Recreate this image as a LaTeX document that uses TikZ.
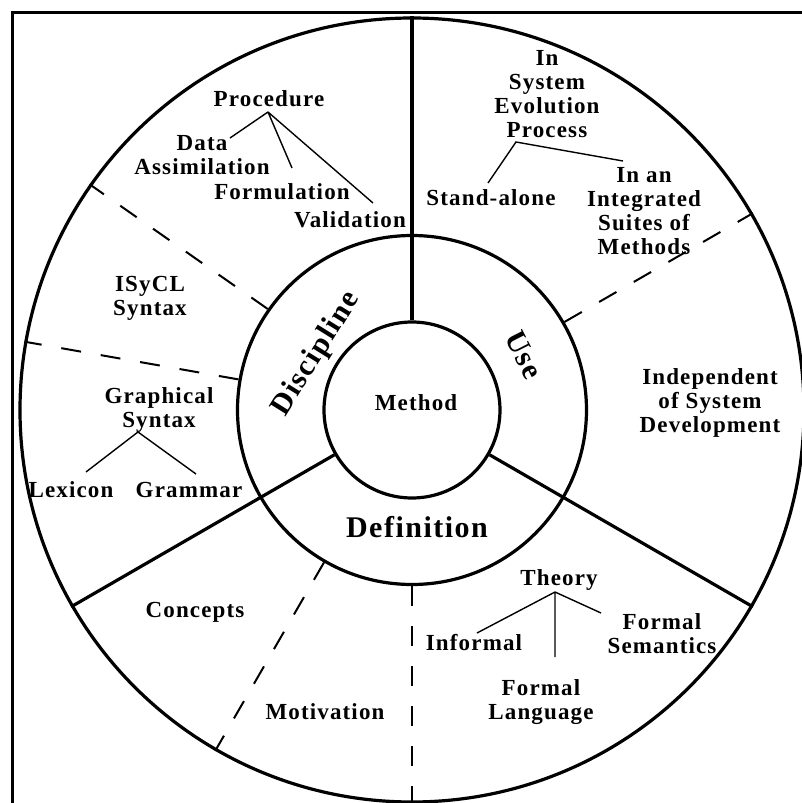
\documentclass[tikz,border=0pt]{standalone}
\usepackage{fontspec}
\setmainfont{Liberation Serif}[LetterSpace=5]
\tikzset{
    ring/.style={circle, draw, line width=1.6pt, inner sep=0pt},
    heavy/.style={line width=1.6pt},
    split/.style={line width=1pt, dash pattern=on 10pt off 10pt},
    twig/.style={line width=0.7pt},
    lbl/.style={font=\fontsize{11.5}{12}\selectfont\bfseries, align=center, inner sep=0pt},
    big/.style={font=\fontsize{15}{16}\selectfont\bfseries, inner sep=0pt},
}

\begin{document}
\begin{tikzpicture}[x=0.5pt, y=0.5pt]
    \useasboundingbox (-412,-393) rectangle (390,410);
    \clip (-412,-393) rectangle (390,410);
    \draw[line width=1.5pt] (-399,-420) -- (-399,397) -- (420,397);

    % rings
    \node[ring, minimum size=392pt] (rim) at (0,0) {};
    \node[ring, minimum size=174.5pt] (band) at (0,0) {};
    \node[ring, minimum size=88pt] (core) at (0,0) {};
    \node[lbl] (method) at (4,7) {Method};

    % sectors
    \draw[heavy] (core.90) -- (rim.90);
    \draw[heavy] (core.210) -- (rim.210);
    \draw[heavy] (core.330) -- (rim.330);
    \draw[split] (band.145) -- (rim.145);
    \draw[split] (band.170) -- (rim.170);
    \draw[split] (band.30) -- (rim.30);
    \draw[split] (band.240) -- (rim.240);
    \draw[split] (band.270) -- (rim.270);

    % ring labels
    \node[big, rotate=58] (disc) at (-95.5,56) {Discipline};
    \node[big, rotate=-63] (use) at (112,55) {Use};
    \node[big] (defn) at (5,-117) {Definition};

    % discipline side
    \node[lbl] (proc) at (-143,311) {Procedure};
    \node[lbl] (data) at (-210,255) {Data\\Assimilation};
    \node[lbl] (form) at (-130,218) {Formulation};
    \node[lbl] (valid) at (-62,190) {Validation};
    \node[lbl] (isycl) at (-262,112) {ISyCL\\Syntax};
    \node[lbl] (graph) at (-253,0) {Graphical\\Syntax};
    \node[lbl] (lex) at (-341,-80) {Lexicon};
    \node[lbl] (gram) at (-223,-80) {Grammar};

    % use side
    \node[lbl] (evol) at (135,315.5) {In\\System\\Evolution\\Process};
    \node[lbl] (stand) at (79,212) {Stand-alone};
    \node[lbl] (suite) at (232,198.5) {In an\\Integrated\\Suites of\\Methods};
    \node[lbl] (indep) at (298,7) {Independent\\of System\\Development};

    % definition side
    \node[lbl] (concepts) at (-217,-202) {Concepts};
    \node[lbl] (motiv) at (-87,-302) {Motivation};
    \node[lbl] (theory) at (147,-170) {Theory};
    \node[lbl] (informal) at (62,-233) {Informal};
    \node[lbl] (fsem) at (250,-223.5) {Formal\\Semantics};
    \node[lbl] (flang) at (129,-292.5) {Formal\\Language};

    % trees
    \coordinate (procroot) at (-144,298);
    \coordinate (tdata) at (-182,272);
    \coordinate (tform) at (-120,242);
    \coordinate (tvalid) at (-39,207);
    \coordinate (evolroot) at (104,268);
    \coordinate (tstand) at (76,227);
    \coordinate (tsuite) at (211,249);
    \coordinate (graphroot) at (-274,-22);
    \coordinate (tlex) at (-326,-62);
    \coordinate (tgram) at (-216,-64);
    \coordinate (theoryroot) at (143,-182);
    \coordinate (tinf) at (65,-223);
    \coordinate (tfsem) at (189,-203);
    \coordinate (tflang) at (143,-247);
    \draw[twig] (procroot) -- (tdata) (procroot) -- (tform) (procroot) -- (tvalid);
    \draw[twig] (tstand) -- (evolroot) -- (tsuite);
    \draw[twig] (tlex) -- (graphroot) -- (tgram);
    \draw[twig] (theoryroot) -- (tinf) (theoryroot) -- (tfsem) (theoryroot) -- (tflang);
\end{tikzpicture}
\end{document}
